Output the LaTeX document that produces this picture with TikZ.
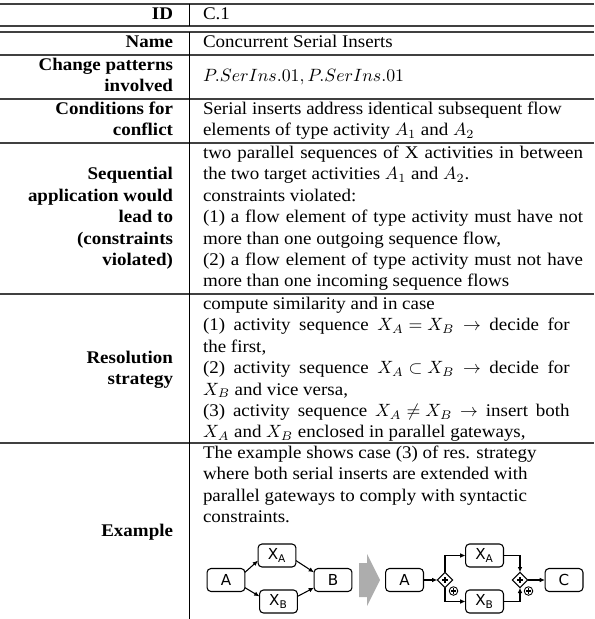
\documentclass[tikz,border=0pt]{standalone}
\usepackage[no-math]{fontspec}
\setmainfont{Liberation Serif}[FakeStretch=1.066, BoldFont={Liberation Serif Bold}]
\newfontfamily\diafont{DejaVu Sans}
\usetikzlibrary{shapes.geometric,arrows.meta}
\newlength\colw
\setlength\colw{213.5pt}
\newlength\resw
\setlength\resw{206pt}
\newcommand\jl[1]{\makebox[\colw][s]{#1}}
\newcommand\jr[1]{\makebox[\resw][s]{#1}}
\begin{document}
\begin{tikzpicture}[x=0.5618pt, y=-0.5618pt,
  every node/.style={inner sep=0pt, outer sep=0pt},
  txt/.style={font=\fontsize{10}{12}\selectfont, anchor=base west},
  lab/.style={font=\fontsize{10}{12}\selectfont\bfseries, anchor=base east},
  hrule/.style={line width=0.6pt, black!75},
  vrule/.style={line width=0.55pt, black},
  act/.style={draw, rounded corners=2.2pt, line width=0.6pt, minimum width=21.3pt, minimum height=12.9pt, font=\diafont\fontsize{8.5}{10}\selectfont},
  gw/.style={draw, diamond, line width=0.6pt, minimum width=8.6pt, minimum height=8.6pt},
  pmark/.style={draw, circle, line width=0.5pt, minimum size=4.8pt},
  arr/.style={line width=0.6pt, -{Latex[length=3pt,width=2.6pt]}}]
\useasboundingbox (0,0) rectangle (594,619);
% rules
\foreach \yy in {4,26,32,55,99,143,294,443}
  \draw[hrule] (0,\yy) -- (594,\yy);
\draw[vrule] (189,4) -- (189,26);
\draw[vrule] (189,32) -- (189,619);
% ID
\node[lab] (lid) at (173,19.5) {ID};
\node[txt] (rid) at (203,19.5) {C.1};
% Name
\node[lab] (lname) at (173,47.5) {Name};
\node[txt] (rname) at (203,47.5) {Concurrent Serial Inserts};
% Change patterns
\node[lab] (lch1) at (173,70.5) {Change patterns};
\node[lab] (lch2) at (173,91.9) {involved};
\node[txt] (rch) at (203,81.2) {$P.SerIns.01, P.SerIns.01$};
% Conditions
\node[lab] (lco1) at (173,114.5) {Conditions for};
\node[lab] (lco2) at (173,135.9) {conflict};
\node[txt] (rco1) at (203,114.5) {Serial inserts address identical subsequent flow};
\node[txt] (rco2) at (203,135.9) {elements of type activity $A_1$ and $A_2$};
% Sequential
\node[lab] (lsq1) at (173,179.9) {Sequential};
\node[lab] (lsq2) at (173,201.3) {application would};
\node[lab] (lsq3) at (173,222.7) {lead to};
\node[lab] (lsq4) at (173,244.1) {(constraints};
\node[lab] (lsq5) at (173,265.5) {violated)};
\node[txt] (rsq1) at (203,158.5) {\jl{two parallel sequences of X activities in between}};
\node[txt] (rsq2) at (203,179.9) {the two target activities $A_1$ and $A_2$.};
\node[txt] (rsq3) at (203,201.3) {constraints violated:};
\node[txt] (rsq4) at (203,222.7) {\jl{(1) a flow element of type activity must have not}};
\node[txt] (rsq5) at (203,244.1) {more than one outgoing sequence flow,};
\node[txt] (rsq6) at (203,265.5) {\jl{(2) a flow element of type activity must not have}};
\node[txt] (rsq7) at (203,286.9) {more than one incoming sequence flows};
% Resolution
\node[lab] (lre1) at (173,363.0) {Resolution};
\node[lab] (lre2) at (173,384.4) {strategy};
\node[txt] (rre1) at (203,309.5) {compute similarity and in case};
\node[txt] (rre2) at (203,330.9) {\jr{(1) activity sequence \mbox{$X_A = X_B$} \mbox{$\rightarrow$} decide for}};
\node[txt] (rre3) at (203,352.3) {the first,};
\node[txt] (rre4) at (203,373.7) {\jr{(2) activity sequence \mbox{$X_A \subset X_B$} \mbox{$\rightarrow$} decide for}};
\node[txt] (rre5) at (203,395.1) {$X_B$ and vice versa,};
\node[txt] (rre6) at (203,416.5) {\jr{(3) activity sequence \mbox{$X_A \neq X_B$} \mbox{$\rightarrow$} insert both}};
\node[txt] (rre7) at (203,437.9) {$X_A$ and $X_B$ enclosed in parallel gateways,};
% Example
\node[lab] (lex) at (173,536) {Example};
\node[txt] (rex1) at (203,458.5) {The example shows case (3) of res. strategy};
\node[txt] (rex2) at (203,479.9) {where both serial inserts are extended with};
\node[txt] (rex3) at (203,501.3) {parallel gateways to comply with syntactic};
\node[txt] (rex4) at (203,522.7) {constraints.};
% diagram, first part
\node[act] (a1) at (226,580) {A};
\node[act] (xa1) at (277,555.5) {X\textsubscript{A}};
\node[act] (xb1) at (278.5,601.5) {X\textsubscript{B}};
\node[act] (b1) at (333,580) {B};
\draw[arr] (a1.22) -- (xa1.195);
\draw[arr] (a1.-22) -- (xb1.165);
\draw[arr] (xa1.-15) -- (b1.158);
\draw[arr] (xb1.15) -- (b1.-158);
% grey transition arrow
\fill[black!32] (359,563) -- (367,563) -- (367,554) -- (380,580) -- (367,606) -- (367,597) -- (359,597) -- cycle;
% diagram, second part
\node[act] (a2) at (404.5,580) {A};
\node[gw] (g1) at (445,580) {};
\node[pmark] (p1) at (453.5,591) {};
\node[act] (xa2) at (484.5,555.5) {X\textsubscript{A}};
\node[act] (xb2) at (484.5,601.5) {X\textsubscript{B}};
\node[gw] (g2) at (520,580) {};
\node[pmark] (p2) at (528.5,591) {};
\node[act] (c2) at (564,580) {C};
\foreach \g in {g1,g2,p1,p2}{
  \draw[line width=0.6pt] (\g.center) ++(-2.6,0) -- ++(5.2,0);
  \draw[line width=0.6pt] (\g.center) ++(0,-2.6) -- ++(0,5.2);
}
\draw[arr] (a2) -- (g1);
\draw[arr] (g1.north) |- (xa2.west);
\draw[arr] (g1.south) |- (xb2.west);
\draw[arr] (xa2.east) -| (g2.north);
\draw[arr] (xb2.east) -| (g2.south);
\draw[arr] (g2) -- (c2);
\end{tikzpicture}
\end{document}
